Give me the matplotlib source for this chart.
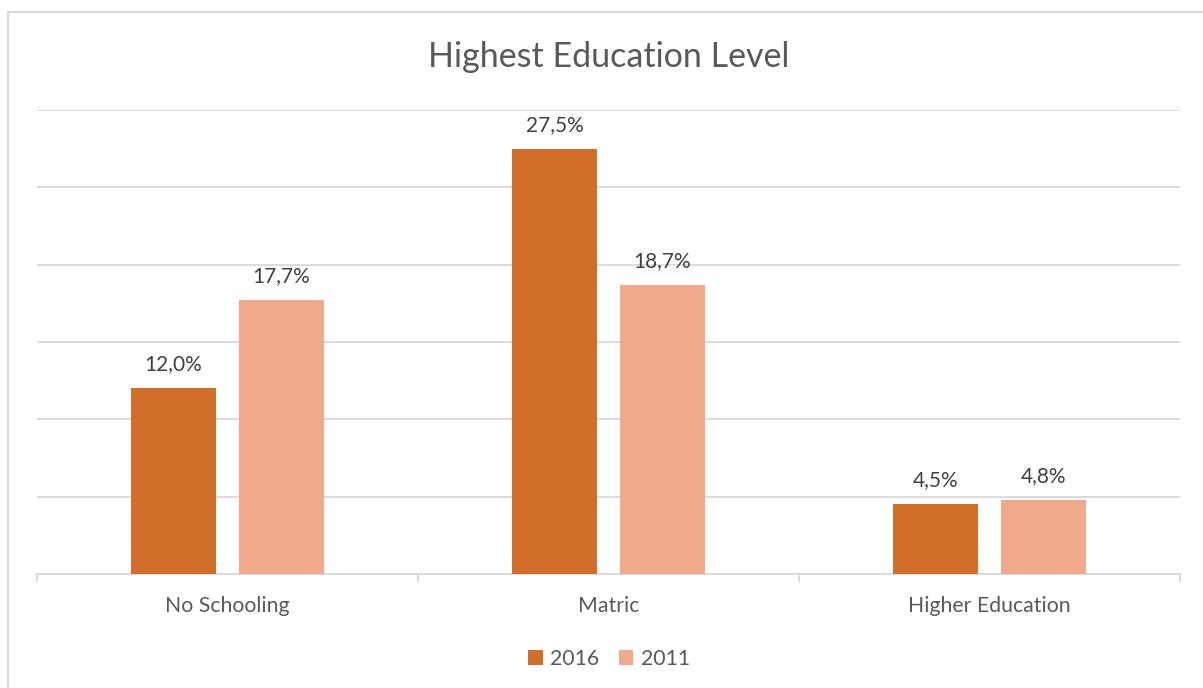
import numpy as np
import matplotlib.pyplot as plt
from matplotlib.lines import Line2D

# data
categories = ["No Schooling", "Matric", "Higher Education"]
series_names = ["2016", "2011"]
vals_2016 = [12.0, 27.5, 4.5]
vals_2011 = [17.7, 18.7, 4.8]
colors = ["#D16E2A", "#F1A98B"]

plt.rcParams['font.family'] = ['Lato', 'DejaVu Sans']
txt_col = "#595959"
grid_col = "#D9D9D9"

W, H = 1203, 688
fig = plt.figure(figsize=(W / 100, H / 100), dpi=100)
ax = fig.add_axes([37 / W, 1 - 574 / H, (1180 - 37) / W, (574 - 110) / H])

x = np.arange(len(categories))
bw = 85 / 381
gap = 23 / 381
offsets = [-(bw + gap) / 2, (bw + gap) / 2]

for vals, name, col, off in zip([vals_2016, vals_2011], series_names, colors, offsets):
    bars = ax.bar(x + off, vals, width=bw, color=col, label=name, zorder=3)
    for b, v in zip(bars, vals):
        ax.annotate(f"{v:.1f}%".replace(".", ","),
                    (b.get_x() + b.get_width() / 2, v),
                    xytext=(0, 10), textcoords="offset points",
                    ha="center", va="bottom", fontsize=15, color="#404040")

ax.set_xlim(-0.5, 2.5)
ax.set_ylim(0, 30)
ax.set_yticks(np.arange(0, 31, 5))
ax.yaxis.grid(True, color=grid_col, linewidth=1.3, zorder=0)
ax.tick_params(axis="y", left=False, labelleft=False)
for s in ["top", "right", "left"]:
    ax.spines[s].set_visible(False)
ax.spines["bottom"].set_color(grid_col)
ax.spines["bottom"].set_linewidth(1.3)

# category labels in the middle, tick marks at the boundaries
ax.set_xticks(x)
ax.set_xticklabels(categories, fontsize=15.3, color=txt_col)
ax.tick_params(axis="x", length=0, pad=16)
ax.set_xticks(np.arange(-0.5, 2.6, 1), minor=True)
ax.tick_params(axis="x", which="minor", length=6, width=1.3, color=grid_col)

fig.text(609 / W, 1 - 57 / H, "Highest Education Level", ha="center", va="center",
         fontsize=24.5, color=txt_col)

leg = fig.legend(loc="center", bbox_to_anchor=(609 / W, 1 - 659 / H), ncol=2,
                 frameon=False, fontsize=15.3, handlelength=0.7, handleheight=0.7,
                 handletextpad=0.35, columnspacing=0.9)
for t in leg.get_texts():
    t.set_color(txt_col)

# chart area border (left and top edges visible)
fig.add_artist(Line2D([8 / W, 8 / W], [0, 1 - 12 / H], color=grid_col, linewidth=1.5))
fig.add_artist(Line2D([8 / W, 1], [1 - 12 / H, 1 - 12 / H], color=grid_col, linewidth=1.5))

fig.savefig("out.png", dpi=100)
